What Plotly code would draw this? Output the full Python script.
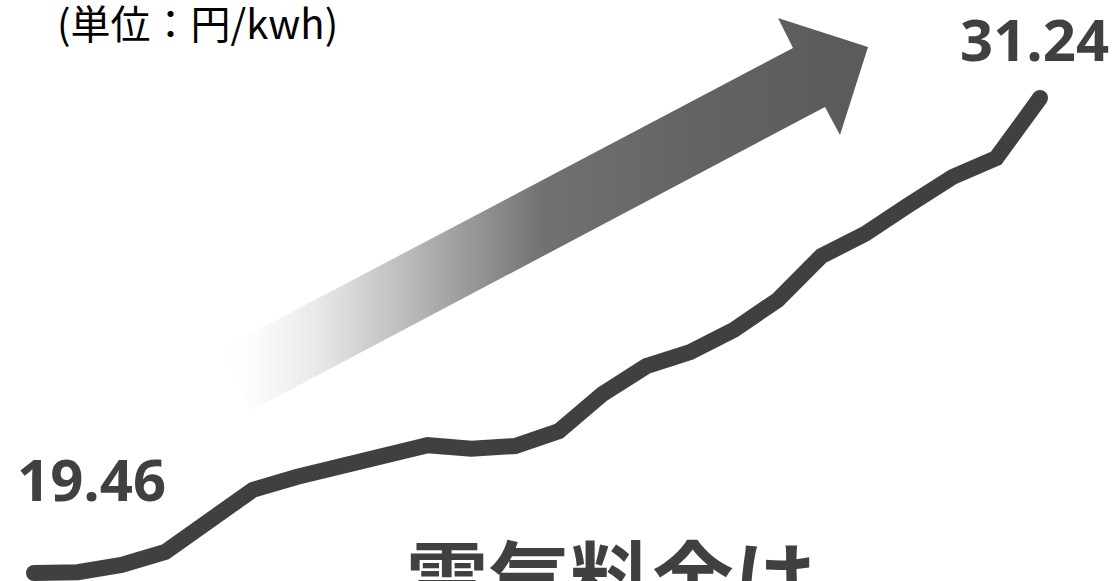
import plotly.graph_objects as go

# ---- data ----
periods = list(range(24))
prices = [19.46, 19.48, 19.66, 19.98, 20.75, 21.52, 21.84, 22.09, 22.36, 22.63,
          22.54, 22.61, 22.98, 23.90, 24.59, 24.94, 25.49, 26.23, 27.32, 27.87,
          28.59, 29.28, 29.75, 31.24]
unit_label = "(単位：円/kwh)"
title_label = "電気料金は"

# decorative arrow outline (pixel space of the canvas)
arrow_x = [220, 793, 778, 868, 840, 825, 252, 220]
arrow_y = [350, 48, 18, 47, 135, 107, 410, 350]

W, H = 1114, 581
LINE = "#404040"

fig = go.Figure()

# arrow with gradient fill (overlay axes in pixel units)
fig.add_trace(go.Scatter(
    x=arrow_x, y=arrow_y, xaxis="x2", yaxis="y2",
    mode="lines", line=dict(width=0, color="rgba(0,0,0,0)"),
    fill="toself",
    fillgradient=dict(
        type="horizontal", start=222, stop=868,
        colorscale=[[0.0, "#ffffff"], [0.05, "#fcfcfc"], [0.15, "#e8e8e8"],
                    [0.28, "#bdbdbd"], [0.40, "#939393"], [0.50, "#717171"],
                    [0.74, "#636363"], [1.0, "#5a5a5a"]]),
    hoverinfo="skip", showlegend=False))

# price line
fig.add_trace(go.Scatter(
    x=periods, y=prices, mode="lines",
    line=dict(color=LINE, width=16),
    showlegend=False, hoverinfo="x+y"))
# round caps at the ends
fig.add_trace(go.Scatter(
    x=[periods[0], periods[-1]], y=[prices[0], prices[-1]], mode="markers",
    marker=dict(color=LINE, size=16, line=dict(width=0)),
    showlegend=False, hoverinfo="skip"))

px_per_x = 43.74
x0_px = 34
xr = [-x0_px / px_per_x, (W - x0_px) / px_per_x]
px_per_unit = (573 - 98) / (prices[-1] - prices[0])
yr = [prices[0] - (H - 573) / px_per_unit, prices[-1] + 98 / px_per_unit]

num_font = dict(family="Open Sans", size=58, color=LINE)
fig.add_annotation(x=91 / W, y=1 - 478 / H, xref="paper", yref="paper",
                   text=f"<b>{prices[0]:.2f}</b>", showarrow=False,
                   xanchor="center", yanchor="middle", font=num_font)
fig.add_annotation(x=1034 / W, y=1 - 38 / H, xref="paper", yref="paper",
                   text=f"<b>{prices[-1]:.2f}</b>", showarrow=False,
                   xanchor="center", yanchor="middle", font=num_font)
fig.add_annotation(x=197 / W, y=1 - 22 / H, xref="paper", yref="paper",
                   text=unit_label, showarrow=False,
                   xanchor="center", yanchor="middle",
                   font=dict(family="Noto Sans CJK JP", size=40, color="#000000"))
fig.add_annotation(x=611 / W, y=1 - 574 / H, xref="paper", yref="paper",
                   text=f"<b>{title_label}</b>", showarrow=False,
                   xanchor="center", yanchor="middle",
                   font=dict(family="Noto Sans CJK JP", size=82, color=LINE))

fig.update_layout(
    width=W, height=H,
    margin=dict(l=0, r=0, t=0, b=0),
    paper_bgcolor="white", plot_bgcolor="white",
    xaxis=dict(range=xr, visible=False, fixedrange=True),
    yaxis=dict(range=yr, visible=False, fixedrange=True),
    xaxis2=dict(range=[0, W], visible=False, overlaying="x", fixedrange=True),
    yaxis2=dict(range=[H, 0], visible=False, overlaying="y", fixedrange=True),
    showlegend=False,
)

fig.write_html("out.html", config={"displayModeBar": False})
